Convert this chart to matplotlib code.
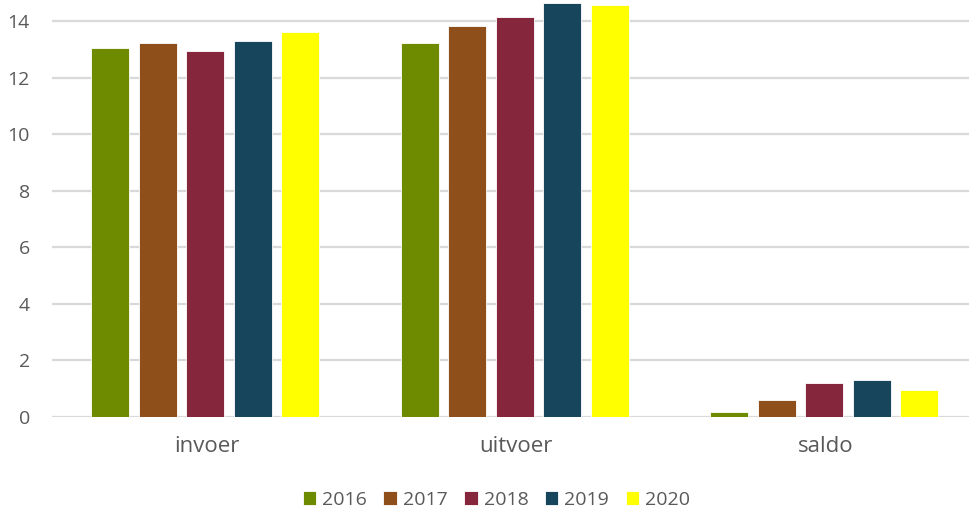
import numpy as np
import matplotlib.pyplot as plt

plt.rcParams['font.family'] = ['Open Sans', 'DejaVu Sans']

categories = ['invoer', 'uitvoer', 'saldo']
years = ['2016', '2017', '2018', '2019', '2020']
values = {
    '2016': [13.04, 13.22, 0.18],
    '2017': [13.22, 13.82, 0.60],
    '2018': [12.94, 14.14, 1.20],
    '2019': [13.29, 14.62, 1.31],
    '2020': [13.61, 14.56, 0.95],
}
colors = ['#6E8B00', '#8F4F1A', '#86263C', '#17455C', '#FFFF00']

fig = plt.figure(figsize=(9.7, 5.11), dpi=100)
ax = fig.add_axes([52 / 970, 94 / 511, 918 / 970, 417 / 511])

x = np.arange(len(categories))
pitch = 0.1535
width = 0.123
for i, (yr, c) in enumerate(zip(years, colors)):
    ax.bar(x + (i - 2) * pitch - 0.005, values[yr], width, color=c, label=yr,
           edgecolor='white', linewidth=0.6, zorder=3)

ax.set_xlim(-0.5, -0.5 + 918 / 309.5)
ax.set_ylim(0, 14.74)
ax.set_yticks(np.arange(0, 15, 2))
ax.set_xticks(x)
ax.set_xticklabels(categories)
ax.grid(axis='y', color='#D9D9D9', linewidth=1.6, zorder=0)
for s in ax.spines.values():
    s.set_visible(False)
ax.tick_params(axis='both', length=0, colors='#595959')
ax.tick_params(axis='y', pad=16, labelsize=14)
ax.tick_params(axis='x', pad=14, labelsize=16)

leg = ax.legend(loc='center', bbox_to_anchor=(0.484, -0.198), ncol=5, frameon=False,
                fontsize=14, handlelength=0.7, handleheight=0.7,
                handletextpad=0.3, columnspacing=0.85)
for t in leg.get_texts():
    t.set_color('#595959')

fig.savefig('out.png', dpi=100)
